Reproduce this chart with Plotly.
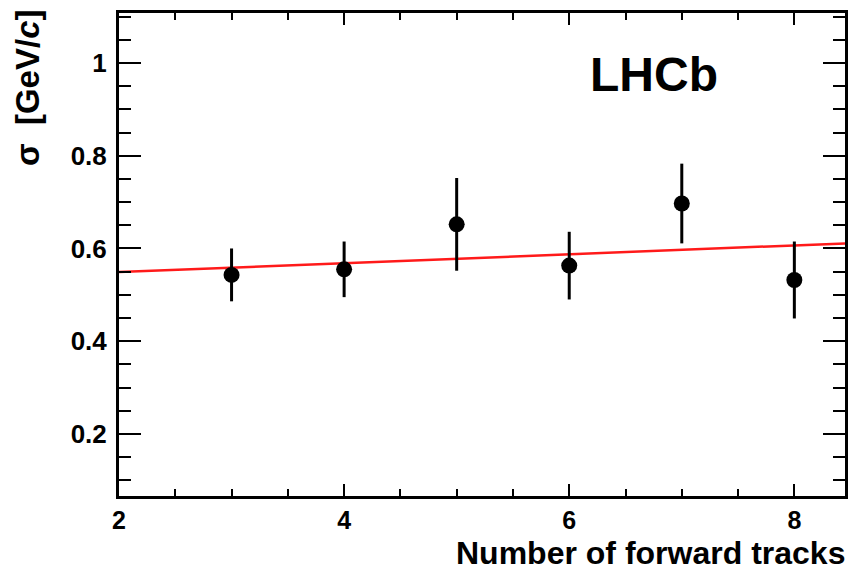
import plotly.graph_objects as go

# Data
n_tracks = [3, 4, 5, 6, 7, 8]
sigma = [0.543, 0.555, 0.652, 0.563, 0.697, 0.532]
sigma_err = [0.057, 0.060, 0.100, 0.073, 0.086, 0.083]

fit_x = [2.0, 8.45]
fit_y = [0.549, 0.611]

x_ticks = [2, 4, 6, 8]
y_ticks = [0.2, 0.4, 0.6, 0.8, 1.0]
y_tick_labels = ["0.2", "0.4", "0.6", "0.8", "1"]

FONT = "Liberation Sans, Arial, Helvetica, sans-serif"

fig = go.Figure()
fig.add_trace(go.Scatter(
    x=fit_x, y=fit_y, mode="lines",
    line=dict(color="#ff1a1a", width=2.5),
    showlegend=False, hoverinfo="skip",
))
fig.add_trace(go.Scatter(
    x=n_tracks, y=sigma, mode="markers",
    marker=dict(color="black", size=16),
    error_y=dict(type="data", array=sigma_err, color="black", thickness=3, width=0),
    showlegend=False,
))

fig.update_layout(
    width=856, height=573,
    margin=dict(l=119, r=8, t=13, b=77),
    paper_bgcolor="white", plot_bgcolor="white",
    font=dict(family=FONT, color="black"),
    xaxis=dict(
        range=[2, 8.45], tickvals=x_ticks, ticktext=[str(v) for v in x_ticks],
        ticks="inside", ticklen=12, tickwidth=2, tickcolor="black",
        minor=dict(dtick=0.5, ticks="inside", ticklen=7, tickwidth=2, tickcolor="black"),
        showline=True, linecolor="black", linewidth=3, mirror="ticks",
        showgrid=False, zeroline=False,
        tickfont=dict(size=25, family=FONT, weight="bold"),
        ticklabelstandoff=0,
    ),
    yaxis=dict(
        range=[0.066, 1.108], tickvals=y_ticks, ticktext=y_tick_labels,
        ticks="inside", ticklen=22, tickwidth=2, tickcolor="black",
        minor=dict(dtick=0.05, tick0=0, ticks="inside", ticklen=12, tickwidth=2, tickcolor="black"),
        showline=True, linecolor="black", linewidth=3, mirror="ticks",
        showgrid=False, zeroline=False,
        tickfont=dict(size=26, family=FONT, weight="bold"),
        ticklabelstandoff=4,
    ),
    annotations=[
        dict(text="Number of forward tracks", xref="paper", yref="paper",
             x=1.003, y=-0.077, xanchor="right", yanchor="top", showarrow=False,
             font=dict(size=32, family=FONT, weight="bold")),
        dict(text="σ  [GeV/<i>c</i>]", xref="paper", yref="paper",
             x=-0.127, y=1.01, xanchor="center", yanchor="top", showarrow=False,
             textangle=-90,
             font=dict(size=33, family=FONT, weight="bold")),
        dict(text="LHCb", xref="paper", yref="paper",
             x=0.737, y=0.873, xanchor="center", yanchor="middle", showarrow=False,
             font=dict(size=48, family=FONT, weight="bold")),
    ],
)

fig.write_html("out.html")
